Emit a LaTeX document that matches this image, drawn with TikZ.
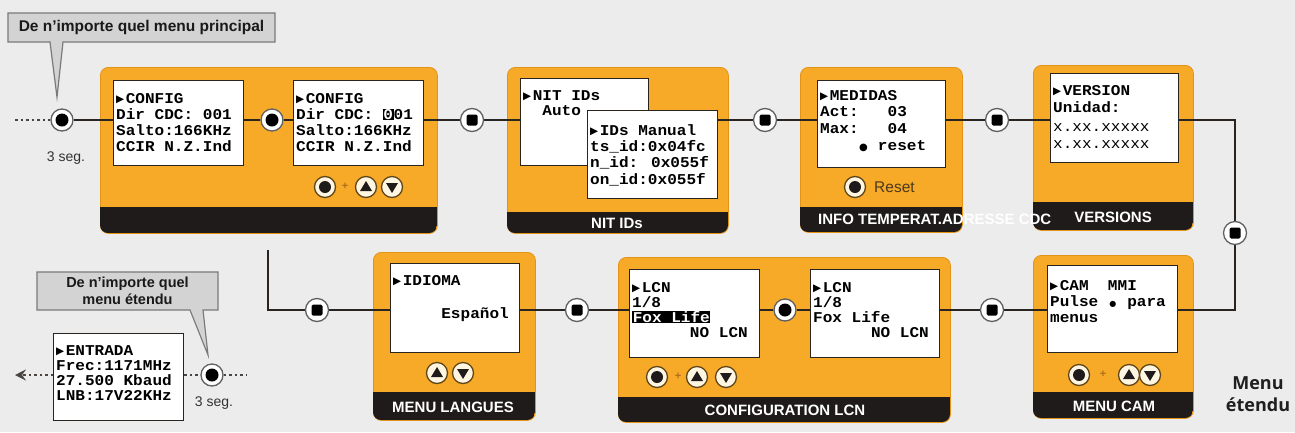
\documentclass[tikz,border=0pt]{standalone}
\usepackage{fontspec}
\setmainfont{Liberation Sans}
\newfontfamily\lcd[FakeStretch=1.07]{Liberation Mono}
\newfontfamily\djv{DejaVu Sans}
\newfontfamily\opensans{Open Sans}
\usetikzlibrary{arrows.meta}
\pgfdeclarelayer{bg}\pgfdeclarelayer{lines}
\pgfsetlayers{bg,lines,main}

\definecolor{bgc}{HTML}{ECECEC}
\definecolor{org}{HTML}{F7A928}
\definecolor{orgedge}{HTML}{E39418}
\definecolor{foot}{HTML}{1E1B1A}
\definecolor{linec}{HTML}{2A2420}
\definecolor{btnfill}{HTML}{FFF6E2}
\definecolor{btnedge}{HTML}{5E4619}
\definecolor{calfill}{HTML}{D3D3D3}
\definecolor{caledge}{HTML}{7A7A7A}
\definecolor{txtgray}{HTML}{333333}
\definecolor{resetc}{HTML}{4B3A1E}
\definecolor{plusc}{HTML}{B0701A}

\newcommand\tri{\makebox[9.63pt][l]{\raisebox{0.3pt}{\djv\fontsize{10.5}{10.5}\selectfont ▶}}}
\newcommand\bdot{\makebox[9.63pt][c]{\djv\fontsize{10}{10}\selectfont ●}}
\newcommand\sdot{\makebox[9.63pt][c]{\djv\fontsize{8}{8}\selectfont ●}}
\newcommand\cur[1]{{\fboxsep=0.6pt\colorbox{black}{\textcolor{white}{#1}}}}
\newcommand\lcdf{\lcd\bfseries\fontsize{15}{16}\selectfont}
\newcommand\tstrut{\rule{0pt}{11pt}}

\newcommand\mkpanel[6]{%
  \node[panel, anchor=north west, minimum width={#4-#2}, minimum height={#5-#3}] (#1) at (#2,#3) {};
  \begin{scope}
    \clip[rounded corners=8pt] (#2,#3) rectangle (#4,#5);
    \fill[foot] (#2,#6) rectangle (#4,#5);
  \end{scope}}
\newcommand\mkscreen[5]{%
  \node[screen, anchor=north west, minimum width={#4-#2}, minimum height={#5-#3}] (#1) at (#2,#3) {};}

\tikzset{
  panel/.style={draw=orgedge, fill=org, line width=0.8pt, rounded corners=8pt, inner sep=0pt},
  screen/.style={draw=linec, fill=white, line width=1.4pt, inner sep=0pt},
  lcdtxt/.style={inner sep=0pt, align=left, anchor=north west, font=\lcdf},
  foottxt/.style={text=white, font=\bfseries\fontsize{15}{15}\selectfont, inner sep=0pt},
  conn/.style={draw=linec, line width=2.4pt},
  dotline/.style={draw=linec!85, line width=2.4pt, dash pattern=on 2.5pt off 3pt},
  ringbase/.style={circle, minimum size=23pt, inner sep=0pt, fill=white, draw=gray!75!black, line width=1.3pt},
  sqnode/.style={ringbase, path picture={\fill[black, rounded corners=1.5pt] ([shift={(-5.5,-5.5)}]path picture bounding box.center) rectangle ++(11,11);}},
  dotnode/.style={ringbase, minimum size=22pt, path picture={\fill[black] (path picture bounding box.center) circle (6.5pt);}},
  btnbase/.style={circle, minimum size=21pt, inner sep=0pt, fill=btnfill, draw=btnedge, line width=1.3pt},
  btndot/.style={btnbase, path picture={\fill[foot] (path picture bounding box.center) circle (6pt);}},
  btnup/.style={btnbase, path picture={\fill[foot] ([shift={(0,-6)}]path picture bounding box.center) -- ++(-6,10) -- ++(12,0) -- cycle;}},
  btndown/.style={btnbase, path picture={\fill[foot] ([shift={(0,6)}]path picture bounding box.center) -- ++(-6,-10) -- ++(12,0) -- cycle;}},
  plustxt/.style={text=plusc, font=\bfseries\fontsize{11}{11}\selectfont, inner sep=0pt},
  callout/.style={fill=calfill, draw=caledge, line width=1.2pt, line join=miter},
  calltxt/.style={text=black!90, font=\bfseries\fontsize{15.5}{17}\selectfont, inner sep=0pt, align=center},
  segtxt/.style={text=txtgray, font=\fontsize{14}{14}\selectfont, inner sep=0pt},
}

\begin{document}
\begin{tikzpicture}[x=1pt, y=-1pt]
\useasboundingbox (0,0) rectangle (1295,432);
\begin{pgfonlayer}{bg}
  \fill[bgc] (0,0) rectangle (1295,432);
  \mkpanel{p1}{100}{67}{437}{233}{207}
  \mkpanel{pnit}{507}{67}{728}{233}{212}
  \mkpanel{pmed}{800}{67}{962}{232}{207}
  \mkpanel{pver}{1033}{65}{1193}{230}{202}
  \mkpanel{pidi}{373}{252}{535}{420}{392}
  \mkpanel{plcn}{618}{257}{950}{422}{397}
  \mkpanel{pcam}{1033}{255}{1193}{418}{392}
\end{pgfonlayer}

% callouts
\draw[callout] (8,13) -- (275,13) -- (275,42) -- (63,42) -- (57,97) -- (50,42) -- (8,42) -- cycle;
\node[calltxt] (call1) at (141.5,27.5) {De n'importe quel menu principal};
\draw[callout] (37,272) -- (218,272) -- (218,310) -- (203,310) -- (208,355) -- (190,310) -- (37,310) -- cycle;
\node[calltxt, font=\bfseries\fontsize{14.5}{17}\selectfont] (call2) at (127.5,291) {De n'importe quel\\menu étendu};

% screens
\mkscreen{s1}{113}{80}{243}{165}
\mkscreen{s2}{293}{80}{423}{165}
\mkscreen{nitA}{520}{78}{648}{165}
\mkscreen{nitM}{587}{110}{717}{198}
\mkscreen{med}{817}{80}{945}{167}
\mkscreen{ver}{1050}{73}{1178}{162}
\mkscreen{idi}{390}{263}{519}{352}
\mkscreen{lcn1}{629}{269}{759}{357}
\mkscreen{lcn2}{810}{269}{939}{357}
\mkscreen{cam}{1047}{265}{1177}{352}
\mkscreen{ent}{53}{333}{183}{420}

% screen texts
\node[lcdtxt] (s1t) at (116,92) {\tstrut\tri CONFIG\\Dir CDC: 001\\Salto:166KHz\\CCIR N.Z.Ind};
\node[lcdtxt] (s2t) at (296,92) {\tstrut\tri CONFIG\\Dir CDC: \cur{0}01\\Salto:166KHz\\CCIR N.Z.Ind};
\node[lcdtxt, font=\lcd\bfseries\fontsize{15}{15.5}\selectfont] (nitAt) at (523,89) {\tstrut\tri NIT IDs\\~~Auto};
\node[lcdtxt, font=\lcd\bfseries\fontsize{15}{16.3}\selectfont] (nitMt) at (590,124) {\tstrut\tri IDs Manual\\ts\_id:0x04fc\\n\_id: 0x055f\\on\_id:0x055f};
\node[lcdtxt, font=\lcd\bfseries\fontsize{15}{16.7}\selectfont] (medt) at (820,89) {\tstrut\tri MEDIDAS\\Act:~~~03\\Max:~~~04\\~~~~\bdot~reset};
\node[lcdtxt, font=\lcd\bfseries\fontsize{15}{17}\selectfont] (vert) at (1053,84) {\tstrut\tri VERSION\\Unidad:\\[2pt]{\mdseries x.xx.xxxxx}\\{\mdseries x.xx.xxxxx}};
\node[lcdtxt] (idit) at (393,274) {\tstrut\tri IDIOMA\\[17pt]~~~~~Español};
\node[lcdtxt, font=\lcd\bfseries\fontsize{15}{15}\selectfont] (lcn1t) at (632,281) {\tstrut\tri LCN\\1/8\\\cur{Fox Life}\\~~~~~~NO LCN};
\node[lcdtxt, font=\lcd\bfseries\fontsize{15}{15}\selectfont] (lcn2t) at (813,281) {\tstrut\tri LCN\\1/8\\Fox Life\\~~~~~~NO LCN};
\node[lcdtxt] (camt) at (1050,279) {\tstrut\tri CAM~~MMI\\Pulse~\sdot~para\\menus};
\node[lcdtxt, font=\lcd\bfseries\fontsize{15}{15}\selectfont] (entt) at (56,344) {\tstrut\tri ENTRADA\\Frec:1171MHz\\27.500 Kbaud\\LNB:17V22KHz};

% footer labels
\node[foottxt] (fnit) at (617,223) {NIT IDs};
\node[foottxt, anchor=west] (fmed) at (818,219) {INFO TEMPERAT.ADRESSE CDC};
\node[foottxt] (fver) at (1113,217) {VERSIONS};
\node[foottxt] (fidi) at (453,407) {MENU LANGUES};
\node[foottxt] (flcn) at (785,410) {CONFIGURATION LCN};
\node[foottxt] (fcam) at (1114,406) {MENU CAM};

% connector nodes
\node[dotnode] (c0) at (62,120) {};
\node[dotnode] (c1) at (272,120) {};
\node[sqnode] (q1) at (472,120) {};
\node[sqnode] (q2) at (765,120) {};
\node[sqnode] (q3) at (997,120) {};
\node[sqnode] (q4) at (1235,233) {};
\node[sqnode] (q5) at (992,310) {};
\node[dotnode] (c2) at (785,310) {};
\node[sqnode] (q6) at (577,310) {};
\node[sqnode] (q7) at (317,310) {};
\node[dotnode] (c3) at (212,375) {};
\coordinate (st) at (15,120);
\coordinate (vtop) at (268,250);
\coordinate (c3r) at (247,375);
\coordinate (arrend) at (15,375);

% buttons
\node[btndot] (bd1) at (325,187) {};
\node[plustxt] (pl1) at (345,186) {+};
\node[btnup] (bu1) at (366,187) {};
\node[btndown] (bdn1) at (392,187) {};
\node[btndot] (breset) at (855,187) {};
\node[text=resetc, font=\fontsize{15.5}{15.5}\selectfont, anchor=west, inner sep=0pt] (treset) at (874,187) {Reset};
\node[btnup] (bu2) at (437,373) {};
\node[btndown] (bdn2) at (463,373) {};
\node[btndot] (bd3) at (657,377) {};
\node[plustxt] (pl3) at (678,376) {+};
\node[btnup] (bu3) at (697,377) {};
\node[btndown] (bdn3) at (726,377) {};
\node[btndot] (bd4) at (1079,375) {};
\node[plustxt] (pl4) at (1103,374) {+};
\node[btnup] (bu4) at (1129,375) {};
\node[btndown] (bdn4) at (1150,375) {};

% other texts
\node[segtxt] (seg1) at (66,158) {3 seg.};
\node[segtxt] (seg2) at (214,403) {3 seg.};
\node[text=black!88, font=\opensans\bfseries\fontsize{18}{22}\selectfont, align=center, inner sep=0pt] (menuext) at (1258,394) {Menu\\étendu};

% connectors
\begin{pgfonlayer}{lines}
  \draw[dotline] (st) -- (c0);
  \draw[conn] (c0) -- (c0 -| s1.west);
  \draw[conn] (s1.east |- c1) -- (c1) -- (c1 -| s2.west);
  \draw[conn] (s2.east |- q1) -- (q1) -- (q1 -| nitA.west);
  \draw[conn] (nitM.east |- q2) -- (q2) -- (q2 -| med.west);
  \draw[conn] (med.east |- q3) -- (q3) -- (q3 -| ver.west);
  \draw[conn] (ver.east |- q3) -| (q4);
  \draw[conn] (q4) |- (cam.east |- q5);
  \draw[conn] (cam.west |- q5) -- (q5) -- (q5 -| lcn2.east);
  \draw[conn] (lcn2.west |- c2) -- (c2) -- (c2 -| lcn1.east);
  \draw[conn] (lcn1.west |- q6) -- (q6) -- (q6 -| idi.east);
  \draw[conn] (idi.west |- q7) -- (q7) -| (vtop);
  \draw[dotline] (ent.east |- c3) -- (c3) -- (c3r);
  \draw[dotline, -{Stealth[length=11pt,width=11pt,inset=4pt]}] (ent.west |- c3) -- (arrend);
\end{pgfonlayer}
\end{tikzpicture}
\end{document}
